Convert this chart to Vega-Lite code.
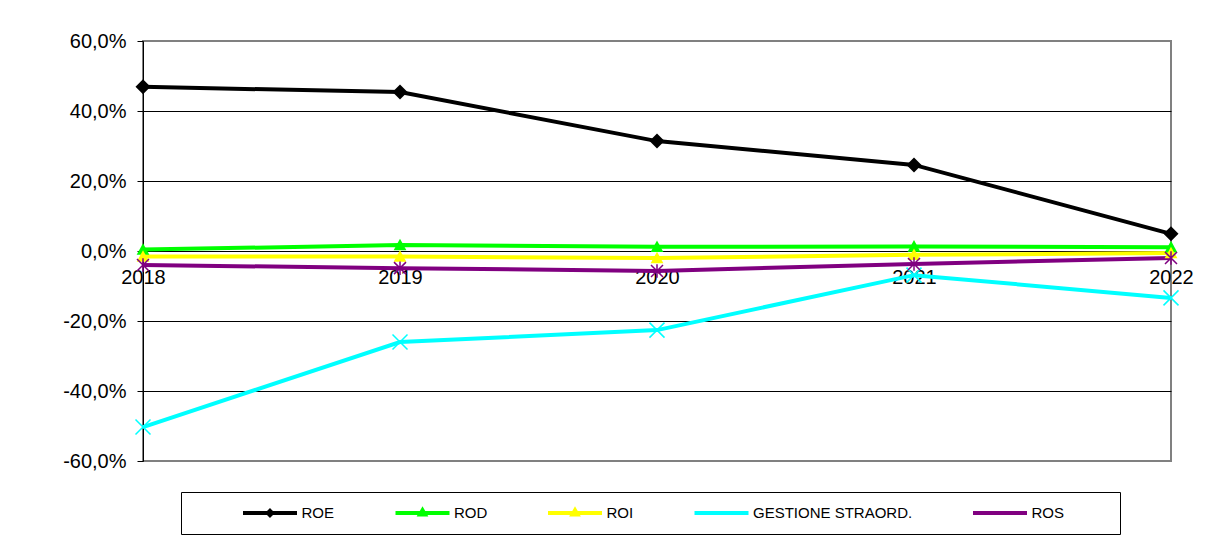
{
  "$schema": "https://vega.github.io/schema/vega-lite/v6.json",
  "width": 1028,
  "height": 420,
  "autosize": {"type": "none"},
  "padding": {"left": 143, "top": 41, "right": 38, "bottom": 88},
  "background": "white",
  "config": {
    "view": {"stroke": "#808080", "strokeWidth": 2},
    "font": "Liberation Sans"
  },
  "data": {
    "values": [
      {"anno": "2018", "serie": "ROE", "valore": 0.469},
      {"anno": "2019", "serie": "ROE", "valore": 0.454},
      {"anno": "2020", "serie": "ROE", "valore": 0.314},
      {"anno": "2021", "serie": "ROE", "valore": 0.246},
      {"anno": "2022", "serie": "ROE", "valore": 0.049},
      {"anno": "2018", "serie": "ROD", "valore": 0.004},
      {"anno": "2019", "serie": "ROD", "valore": 0.017},
      {"anno": "2020", "serie": "ROD", "valore": 0.012},
      {"anno": "2021", "serie": "ROD", "valore": 0.013},
      {"anno": "2022", "serie": "ROD", "valore": 0.011},
      {"anno": "2018", "serie": "ROI", "valore": -0.016},
      {"anno": "2019", "serie": "ROI", "valore": -0.016},
      {"anno": "2020", "serie": "ROI", "valore": -0.020},
      {"anno": "2021", "serie": "ROI", "valore": -0.011},
      {"anno": "2022", "serie": "ROI", "valore": -0.006},
      {"anno": "2018", "serie": "GESTIONE STRAORD.", "valore": -0.503},
      {"anno": "2019", "serie": "GESTIONE STRAORD.", "valore": -0.260},
      {"anno": "2020", "serie": "GESTIONE STRAORD.", "valore": -0.226},
      {"anno": "2021", "serie": "GESTIONE STRAORD.", "valore": -0.069},
      {"anno": "2022", "serie": "GESTIONE STRAORD.", "valore": -0.134},
      {"anno": "2018", "serie": "ROS", "valore": -0.040},
      {"anno": "2019", "serie": "ROS", "valore": -0.049},
      {"anno": "2020", "serie": "ROS", "valore": -0.057},
      {"anno": "2021", "serie": "ROS", "valore": -0.037},
      {"anno": "2022", "serie": "ROS", "valore": -0.020}
    ]
  },
  "encoding": {
    "x": {
      "field": "anno",
      "type": "ordinal",
      "scale": {"type": "point", "padding": 0},
      "axis": {
        "title": null,
        "orient": "bottom",
        "offset": -210,
        "domain": false,
        "ticks": false,
        "grid": false,
        "labelAngle": 0,
        "labelFontSize": 20,
        "labelColor": "black",
        "labelPadding": 16
      }
    },
    "y": {
      "field": "valore",
      "type": "quantitative",
      "scale": {"domain": [-0.6, 0.6], "nice": false, "zero": false},
      "axis": {
        "title": null,
        "values": [-0.6, -0.4, -0.2, 0, 0.2, 0.4, 0.6],
        "labelExpr": "(datum.value < -0.0001 ? '-' : '') + replace(format(abs(datum.value), '.1%'), '.', ',')",
        "labelFontSize": 20,
        "labelColor": "black",
        "labelPadding": 11,
        "tickSize": 6,
        "tickColor": "black",
        "domainColor": "black",
        "domainWidth": 1,
        "gridColor": "black",
        "gridWidth": 1,
        "gridOpacity": {"condition": {"test": "abs(datum.value) > 0.59", "value": 0}, "value": 1}
      }
    }
  },
  "layer": [
    {
      "mark": {"type": "line", "strokeWidth": 4},
      "encoding": {
        "stroke": {
          "field": "serie",
          "type": "nominal",
          "sort": null,
          "scale": {
            "domain": ["ROE", "ROD", "ROI", "GESTIONE STRAORD.", "ROS"],
            "range": ["#000000", "#00ff00", "#ffff00", "#00ffff", "#800080"]
          },
          "legend": {
            "orient": "none",
            "legendX": 38,
            "legendY": 451,
            "direction": "horizontal",
            "columns": 5,
            "title": "\u2800",
            "titleOrient": "left",
            "titleFontSize": 14,
            "titlePadding": 39,
            "titleColor": "white",
            "strokeColor": "black",
            "padding": 11,
            "symbolType": "stroke",
            "symbolSize": 2916,
            "symbolStrokeWidth": 4,
            "clipHeight": 20,
            "labelFontSize": 15,
            "labelColor": "black",
            "labelFont": "Liberation Sans",
            "labelOffset": 2.5,
            "columnPadding": 58.5,
            "labelExpr": "datum.label === 'ROS' ? 'ROS\u2800\u2800\u2800\u2800' : datum.label",
            "encode": {
              "symbols": {
                "update": {
                  "shape": {"signal": "datum.value === 'ROE' ? 'M-1,0L1,0M0,-0.08L0.08,0L0,0.08L-0.08,0Z' : (datum.value === 'ROD' || datum.value === 'ROI') ? 'M-1,0L1,0M0,-0.1L0.09,0.06L-0.09,0.06Z' : 'M-1,0L1,0'"},
                  "fill": {"scale": "stroke", "field": "value"},
                  "stroke": {"scale": "stroke", "field": "value"},
                  "strokeWidth": {"value": 4},
                  "opacity": {"value": 1}
                }
              }
            }
          }
        }
      }
    },
    {
      "transform": [{"filter": "datum.serie === 'ROE'"}],
      "mark": {"type": "point", "filled": true, "size": 225, "opacity": 1, "color": "#000000", "shape": "M0,-1L1,0L0,1L-1,0Z"}
    },
    {
      "transform": [{"filter": "datum.serie === 'ROD'"}],
      "mark": {"type": "point", "filled": true, "size": 225, "opacity": 1, "color": "#00ff00", "shape": "M0,-0.85L0.85,0.7L-0.85,0.7Z"}
    },
    {
      "transform": [{"filter": "datum.serie === 'ROI'"}],
      "mark": {"type": "point", "filled": true, "size": 225, "opacity": 1, "color": "#ffff00", "shape": "M0,-0.85L0.85,0.7L-0.85,0.7Z"}
    },
    {
      "transform": [{"filter": "datum.serie === 'GESTIONE STRAORD.'"}],
      "mark": {"type": "point", "filled": false, "size": 225, "strokeWidth": 1.5, "opacity": 1, "color": "#00ffff", "shape": "M-1,-1L1,1M-1,1L1,-1"}
    },
    {
      "transform": [{"filter": "datum.serie === 'ROS'"}],
      "mark": {"type": "point", "filled": false, "size": 225, "strokeWidth": 1.5, "opacity": 1, "color": "#800080", "shape": "M-0.8,-0.8L0.8,0.8M-0.8,0.8L0.8,-0.8M0,-0.9L0,0.9"}
    }
  ]
}
